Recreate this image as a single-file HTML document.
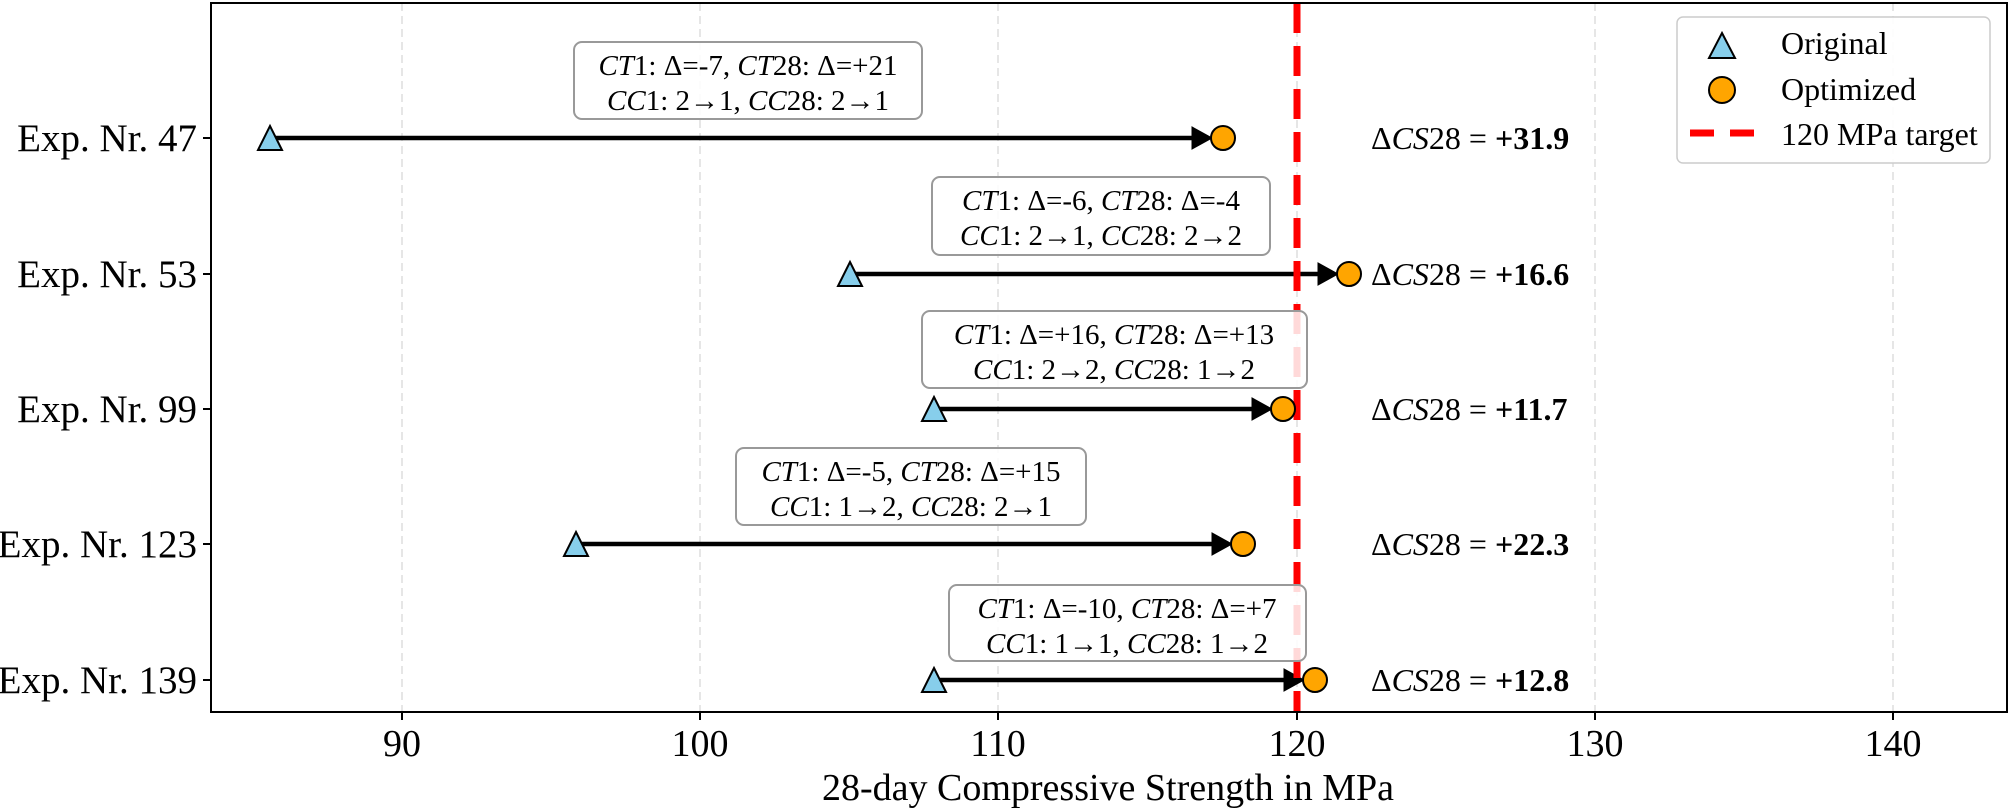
<!DOCTYPE html>
<html><head><meta charset="utf-8"><style>body{margin:0;background:#fff}svg{display:block}text{font-family:"Liberation Serif",serif;fill:#000}</style></head><body>
<svg width="2008" height="809" viewBox="0 0 2008 809" xmlns="http://www.w3.org/2000/svg">
<g stroke="#d9d9d9" stroke-width="1.3" stroke-dasharray="8,5">
<line x1="402" y1="3" x2="402" y2="712"/><line x1="700" y1="3" x2="700" y2="712"/><line x1="998" y1="3" x2="998" y2="712"/><line x1="1297" y1="3" x2="1297" y2="712"/><line x1="1595" y1="3" x2="1595" y2="712"/><line x1="1893" y1="3" x2="1893" y2="712"/>
</g>
<g stroke="#000" stroke-width="4.5">
<line x1="270" y1="138" x2="1200" y2="138"/><path d="M1192,127 L1212,138 L1192,149z" fill="#000" stroke-width="1"/>
<line x1="850" y1="274" x2="1326" y2="274"/><path d="M1318,263 L1338,274 L1318,285z" fill="#000" stroke-width="1"/>
<line x1="934" y1="409" x2="1260" y2="409"/><path d="M1252,398 L1272,409 L1252,420z" fill="#000" stroke-width="1"/>
<line x1="576" y1="544" x2="1220" y2="544"/><path d="M1212,533 L1232,544 L1212,555z" fill="#000" stroke-width="1"/>
<line x1="934" y1="680" x2="1292" y2="680"/><path d="M1284,669 L1304,680 L1284,691z" fill="#000" stroke-width="1"/>
</g>
<line x1="1297" y1="3" x2="1297" y2="712" stroke="#ff0000" stroke-width="7" stroke-dasharray="30,13"/>
<g fill="#fff" fill-opacity="0.85" stroke="#999" stroke-width="2">
<rect x="574" y="42" width="348" height="77" rx="8"/>
<rect x="932" y="177" width="338" height="78" rx="8"/>
<rect x="922" y="311" width="385" height="77" rx="8"/>
<rect x="736" y="448" width="350" height="77" rx="8"/>
<rect x="949" y="585" width="357" height="76" rx="8"/>
</g>
<g font-size="29" text-anchor="middle">
<text x="748" y="75"><tspan font-style="italic">CT</tspan>1: Δ=-7, <tspan font-style="italic">CT</tspan>28: Δ=+21</text>
<text x="748" y="110"><tspan font-style="italic">CC</tspan>1: 2→1, <tspan font-style="italic">CC</tspan>28: 2→1</text>
<text x="1101" y="210"><tspan font-style="italic">CT</tspan>1: Δ=-6, <tspan font-style="italic">CT</tspan>28: Δ=-4</text>
<text x="1101" y="245"><tspan font-style="italic">CC</tspan>1: 2→1, <tspan font-style="italic">CC</tspan>28: 2→2</text>
<text x="1114" y="344"><tspan font-style="italic">CT</tspan>1: Δ=+16, <tspan font-style="italic">CT</tspan>28: Δ=+13</text>
<text x="1114" y="379"><tspan font-style="italic">CC</tspan>1: 2→2, <tspan font-style="italic">CC</tspan>28: 1→2</text>
<text x="911" y="481"><tspan font-style="italic">CT</tspan>1: Δ=-5, <tspan font-style="italic">CT</tspan>28: Δ=+15</text>
<text x="911" y="516"><tspan font-style="italic">CC</tspan>1: 1→2, <tspan font-style="italic">CC</tspan>28: 2→1</text>
<text x="1127" y="618"><tspan font-style="italic">CT</tspan>1: Δ=-10, <tspan font-style="italic">CT</tspan>28: Δ=+7</text>
<text x="1127" y="653"><tspan font-style="italic">CC</tspan>1: 1→1, <tspan font-style="italic">CC</tspan>28: 1→2</text>
</g>
<g fill="#87ceeb" stroke="#000" stroke-width="2">
<path d="M270,126 L282,150 L258,150z"/><path d="M850,262 L862,286 L838,286z"/><path d="M934,397 L946,421 L922,421z"/><path d="M576,532 L588,556 L564,556z"/><path d="M934,668 L946,692 L922,692z"/>
</g>
<g fill="#ffa500" stroke="#000" stroke-width="2">
<circle cx="1223" cy="138" r="12"/><circle cx="1349" cy="274" r="12"/><circle cx="1283" cy="409" r="12"/><circle cx="1243" cy="544" r="12"/><circle cx="1315" cy="680" r="12"/>
</g>
<g font-size="32">
<text x="1371" y="149">Δ<tspan font-style="italic">CS</tspan>28 = <tspan font-weight="bold">+31.9</tspan></text>
<text x="1371" y="285">Δ<tspan font-style="italic">CS</tspan>28 = <tspan font-weight="bold">+16.6</tspan></text>
<text x="1371" y="420">Δ<tspan font-style="italic">CS</tspan>28 = <tspan font-weight="bold">+11.7</tspan></text>
<text x="1371" y="555">Δ<tspan font-style="italic">CS</tspan>28 = <tspan font-weight="bold">+22.3</tspan></text>
<text x="1371" y="691">Δ<tspan font-style="italic">CS</tspan>28 = <tspan font-weight="bold">+12.8</tspan></text>
</g>
<rect x="1677" y="17" width="313" height="146" rx="6" fill="#fff" fill-opacity="0.9" stroke="#ccc" stroke-width="1.5"/>
<path d="M1722,33 L1735,58 L1709,58z" fill="#87ceeb" stroke="#000" stroke-width="2"/>
<circle cx="1722" cy="90" r="13" fill="#ffa500" stroke="#000" stroke-width="2"/>
<line x1="1690" y1="133" x2="1754" y2="133" stroke="#ff0000" stroke-width="7" stroke-dasharray="24,16"/>
<g font-size="32"><text x="1781" y="54">Original</text><text x="1781" y="100">Optimized</text><text x="1781" y="145">120 MPa target</text></g>
<rect x="211" y="3" width="1796" height="709" fill="none" stroke="#000" stroke-width="2"/>
<g stroke="#000" stroke-width="2">
<line x1="402" y1="712" x2="402" y2="720"/><line x1="700" y1="712" x2="700" y2="720"/><line x1="998" y1="712" x2="998" y2="720"/><line x1="1297" y1="712" x2="1297" y2="720"/><line x1="1595" y1="712" x2="1595" y2="720"/><line x1="1893" y1="712" x2="1893" y2="720"/>
<line x1="203" y1="138" x2="211" y2="138"/><line x1="203" y1="274" x2="211" y2="274"/><line x1="203" y1="409" x2="211" y2="409"/><line x1="203" y1="544" x2="211" y2="544"/><line x1="203" y1="680" x2="211" y2="680"/>
</g>
<g font-size="38" text-anchor="middle">
<text x="402" y="756">90</text><text x="700" y="756">100</text><text x="998" y="756">110</text><text x="1297" y="756">120</text><text x="1595" y="756">130</text><text x="1893" y="756">140</text>
<text x="1108" y="800">28-day Compressive Strength in MPa</text>
</g>
<g font-size="39" text-anchor="end">
<text x="197" y="151">Exp. Nr. 47</text><text x="197" y="287">Exp. Nr. 53</text><text x="197" y="422">Exp. Nr. 99</text><text x="197" y="557">Exp. Nr. 123</text><text x="197" y="693">Exp. Nr. 139</text>
</g>
</svg>
</body></html>
